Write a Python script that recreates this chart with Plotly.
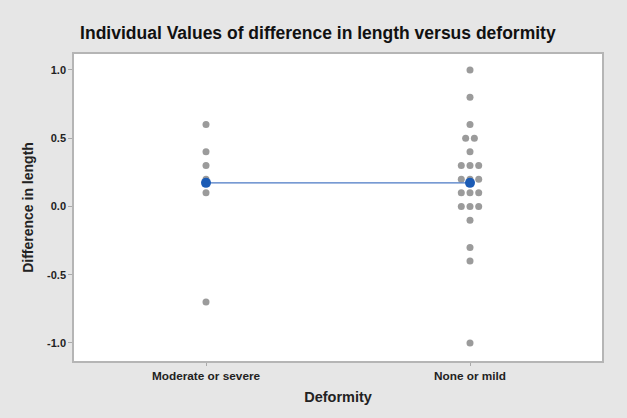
import plotly.graph_objects as go
from collections import Counter

categories = ["Moderate or severe", "None or mild"]
moderate_values = [0.6, 0.4, 0.3, 0.2, 0.1, -0.7]
none_values = [1.0, 0.8, 0.6, 0.5, 0.5, 0.4, 0.3, 0.3, 0.3, 0.2, 0.2, 0.2,
               0.1, 0.1, 0.1, 0.0, 0.0, 0.0, -0.1, -0.3, -0.4, -1.0]
group_means = [0.173, 0.173]
y_ticks = [-1.0, -0.5, 0.0, 0.5, 1.0]

DOT_STEP = 0.033


def stacked(values, center):
    xs, ys = [], []
    counts = Counter(values)
    for v, n in counts.items():
        for i in range(n):
            xs.append(center + (i - (n - 1) / 2) * DOT_STEP)
            ys.append(v)
    return xs, ys


fig = go.Figure()
for idx, vals in enumerate([moderate_values, none_values]):
    xs, ys = stacked(vals, idx)
    fig.add_trace(go.Scatter(x=xs, y=ys, mode="markers",
                             marker=dict(color="#9b9b9b", size=7),
                             showlegend=False, hoverinfo="y"))

fig.add_trace(go.Scatter(x=[0, 1], y=group_means, mode="lines+markers",
                         line=dict(color="#4a78c4", width=1.2),
                         marker=dict(color="#1b5bb5", size=10),
                         showlegend=False))

font_family = "Liberation Sans, Arial, sans-serif"
fig.update_layout(
    width=627, height=418,
    margin=dict(l=74, r=25, t=54, b=57),
    paper_bgcolor="#e6e6e6",
    plot_bgcolor="#ffffff",
    title=dict(text="<b>Individual Values of difference in length versus deformity</b>",
               x=0.507, xanchor="center", y=0.921, yanchor="middle",
               font=dict(family=font_family, size=17.5, color="#111111")),
    xaxis=dict(range=[-0.5, 1.5], tickvals=[0, 1],
               ticktext=["<b>" + c + "</b>" for c in categories],
               ticks="outside", ticklen=3, tickcolor="#aaaaaa",
               showgrid=False, zeroline=False, showline=True, mirror=True,
               linecolor="#b5b5b5", linewidth=1.5,
               tickfont=dict(family=font_family, size=11.8, color="#222222"),
               title=dict(text="<b>Deformity</b>", standoff=10,
                          font=dict(family=font_family, size=14.5, color="#222222"))),
    yaxis=dict(range=[-1.132, 1.117], tickvals=y_ticks,
               ticktext=["<b>%.1f</b>" % v for v in y_ticks],
               ticks="outside", ticklen=4, tickcolor="#aaaaaa",
               showgrid=False, zeroline=False, showline=True, mirror=True,
               linecolor="#b5b5b5", linewidth=1.5,
               tickfont=dict(family=font_family, size=11, color="#222222"),
               title=dict(text="<b>Difference in length</b>", standoff=10,
                          font=dict(family=font_family, size=14, color="#222222"))),
)

fig.write_html("out.html",
               config={"displayModeBar": False},
               post_script="document.body.style.margin='0';"
                           "document.body.style.background='#e6e6e6';")
